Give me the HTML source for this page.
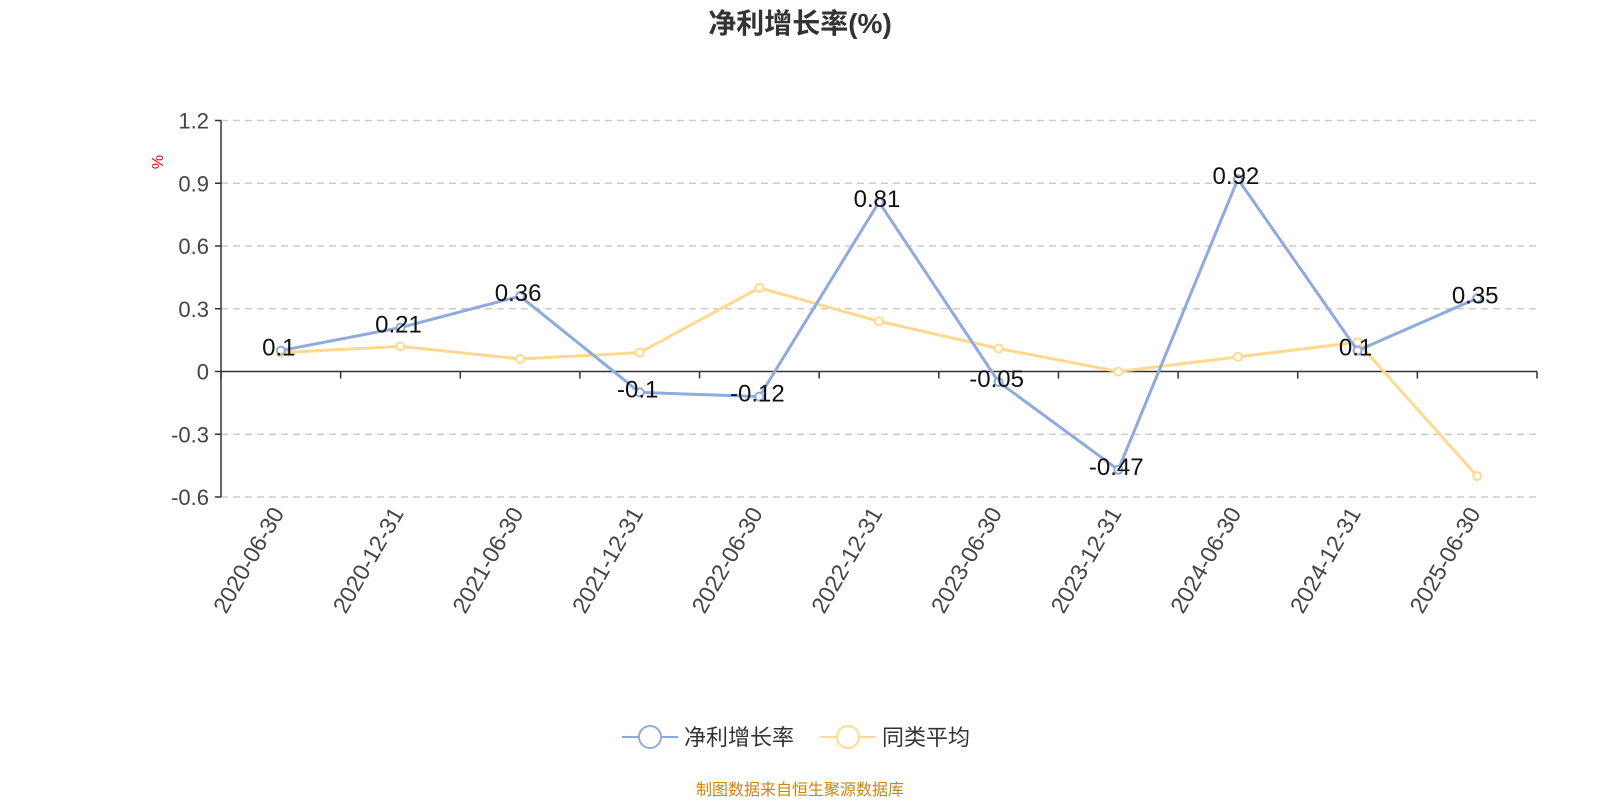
<!DOCTYPE html>
<html><head><meta charset="utf-8"><style>
body{margin:0;background:#fff;}
svg text{font-family:"Liberation Sans","Noto Sans CJK SC",sans-serif;}
</style></head><body>
<svg width="1600" height="800" id="c">
<text x="800" y="33" text-anchor="middle" font-size="28" font-weight="bold" fill="#333">净利增长率(%)</text>
<text transform="translate(163,162) rotate(-90)" text-anchor="middle" font-size="16" fill="#e00">%</text>
<g id="grid"></g><g id="axes"></g><g id="series"></g>
<g>
<line x1="622" y1="737" x2="678" y2="737" stroke="#8faadc" stroke-width="2"/>
<circle cx="650" cy="737" r="11" fill="#fff" stroke="#8faadc" stroke-width="2"/>
<text x="684" y="745" font-size="22" fill="#333">净利增长率</text>
<line x1="820" y1="737" x2="876" y2="737" stroke="#ffd98f" stroke-width="2"/>
<circle cx="848" cy="737" r="11" fill="#fff" stroke="#ffd98f" stroke-width="2"/>
<text x="882" y="745" font-size="22" fill="#333">同类平均</text>
</g>
<text x="800" y="795" text-anchor="middle" font-size="16" fill="#c8860a">制图数据来自恒生聚源数据库</text>
</svg>
<script>
const categories=["2020-06-30","2020-12-31","2021-06-30","2021-12-31","2022-06-30","2022-12-31","2023-06-30","2023-12-31","2024-06-30","2024-12-31","2025-06-30"];
const netProfit=[0.1,0.21,0.36,-0.1,-0.12,0.81,-0.05,-0.47,0.92,0.1,0.35];
const peerAvg=[0.09,0.12,0.06,0.09,0.40,0.24,0.11,0.0,0.07,0.14,-0.50];
const yTicks=[1.2,0.9,0.6,0.3,0,-0.3,-0.6];
const NS="http://www.w3.org/2000/svg";
const L=221,R=1537,T=120.5,B=497,ymax=1.2,ymin=-0.6;
const step=(R-L)/categories.length;
const X=i=>L+step*(i+0.5);
const Y=v=>T+(ymax-v)/(ymax-ymin)*(B-T);
function mk(p,tag,a){const e=document.createElementNS(NS,tag);for(const k in a)e.setAttribute(k,a[k]);p.appendChild(e);return e;}
const grid=document.getElementById('grid'),axes=document.getElementById('axes'),ser=document.getElementById('series');
yTicks.forEach(t=>{
 const y=Y(t);
 if(t!==0){const g=mk(grid,'line',{x1:L,x2:R,y1:y,y2:y,stroke:'#ccc','stroke-width':1.5,'stroke-dasharray':'7,5'});
 
 }
 mk(axes,'line',{x1:L-6,x2:L,y1:y,y2:y,stroke:'#333','stroke-width':1.5});
 const tx=mk(axes,'text',{x:L-12,y:y+8,'text-anchor':'end','font-size':22,fill:'#444'});
 tx.textContent=String(t);
 
 
});
mk(axes,'line',{x1:L,x2:L,y1:T,y2:B,stroke:'#333','stroke-width':1.5});
mk(axes,'line',{x1:L,x2:R,y1:Y(0),y2:Y(0),stroke:'#333','stroke-width':1.5});
for(let i=0;i<=categories.length;i++){const x=L+step*i;mk(axes,'line',{x1:x,x2:x,y1:Y(0),y2:Y(0)+7,stroke:'#333','stroke-width':1.5});}
categories.forEach((c,i)=>{
 const x=X(i)+4,y=B+16;
 const tx=mk(axes,'text',{x:x,y:y,'text-anchor':'end','font-size':23,fill:'#444',transform:`rotate(-60 ${x} ${y})`});
 tx.textContent=c;
 
 
});
function draw(vals,color,name,labels){
 const pl=mk(ser,'polyline',{points:vals.map((v,i)=>X(i)+','+Y(v)).join(' '),fill:'none',stroke:color,'stroke-width':3});
 
 
 vals.forEach((v,i)=>{
  const c=mk(ser,'circle',{cx:X(i),cy:Y(v),r:4,fill:'#fff',stroke:color,'stroke-width':2});
  
  
  if(labels){const t=mk(ser,'text',{x:X(i)-2,y:Y(v)+5,'text-anchor':'middle','font-size':24,fill:'#111'});
  t.textContent=String(v);
  
  }
 });
}
draw(peerAvg,'#ffd98f','peer-average',false);
draw(netProfit,'#8faadc','net-profit',true);
</script>
</body></html>
